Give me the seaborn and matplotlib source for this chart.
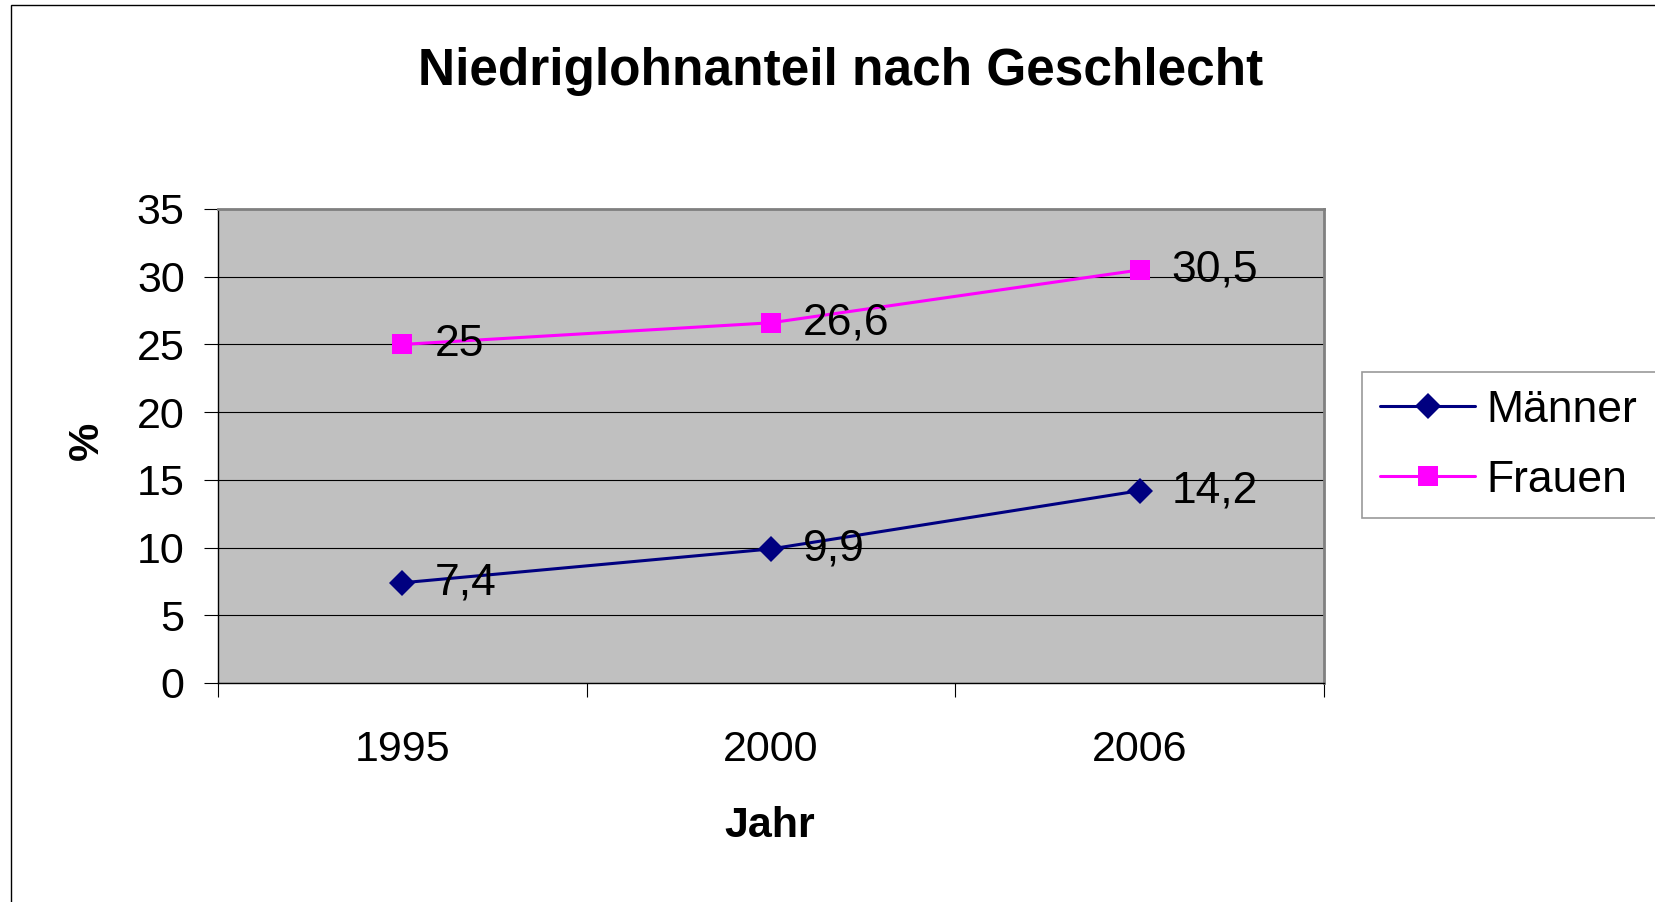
import pandas as pd
import numpy as np
import matplotlib
matplotlib.use('Agg')
import matplotlib.pyplot as plt
from matplotlib.patches import Rectangle
import seaborn as sns

# values
years = ['1995', '2000', '2006']
maenner = [7.4, 9.9, 14.2]
frauen = [25, 26.6, 30.5]
groups = ['Männer', 'Frauen']
y_ticks = [0, 5, 10, 15, 20, 25, 30, 35]

colors = {'Männer': '#000080', 'Frauen': '#FF00FF'}
markers = {'Männer': 'D', 'Frauen': 's'}


def fmt(v):
    return f'{v:g}'.replace('.', ',')


def main():
    df = pd.DataFrame({
        'Jahr': years * 2,
        'Anteil': maenner + frauen,
        'Geschlecht': ['Männer'] * 3 + ['Frauen'] * 3,
    })

    sns.set_style('white')
    plt.rcParams['font.family'] = ['Liberation Sans', 'DejaVu Sans']
    plt.rcParams['text.color'] = 'black'
    plt.rcParams['axes.labelcolor'] = 'black'
    plt.rcParams['xtick.color'] = 'black'
    plt.rcParams['ytick.color'] = 'black'

    W, H = 1655, 902
    fig = plt.figure(figsize=(W / 100, H / 100), dpi=100)
    ax = fig.add_axes([218 / W, 1 - 683 / H, (1324 - 218) / W, (683 - 209) / H])
    ax.set_facecolor('#C0C0C0')

    sns.lineplot(data=df, x='Jahr', y='Anteil', hue='Geschlecht', style='Geschlecht',
                 hue_order=groups, style_order=groups, palette=colors, markers=markers,
                 dashes=False, linewidth=2.2, markersize=13, markeredgewidth=0,
                 ax=ax, zorder=3)
    # fix individual marker sizes
    for line in ax.get_lines():
        if line.get_marker() == 'D':
            line.set_markersize(13)
        elif line.get_marker() == 's':
            line.set_markersize(15)

    ax.set_xlim(-0.5, 2.5)
    ax.set_ylim(0, 35)
    ax.set_yticks(y_ticks)
    ax.yaxis.grid(True, color='black', linewidth=0.8)
    ax.xaxis.grid(False)
    ax.set_axisbelow(True)

    ax.set_xticks(np.arange(len(years)))
    ax.set_xticklabels(years)
    ax.set_xticks(np.arange(len(years) + 1) - 0.5, minor=True)
    ax.tick_params(axis='x', which='major', length=0, pad=34, labelsize=31, bottom=True)
    ax.tick_params(axis='x', which='minor', length=10, width=0.8, color='black',
                   direction='out', bottom=True)
    ax.tick_params(axis='y', length=10, width=0.8, color='black', direction='out',
                   pad=14, labelsize=31, left=True)

    for s in ['top', 'right']:
        ax.spines[s].set_color('#808080')
        ax.spines[s].set_linewidth(2)
    for s in ['left', 'bottom']:
        ax.spines[s].set_color('black')
        ax.spines[s].set_linewidth(1)

    # data labels right of the points
    for g, vals in zip(groups, [maenner, frauen]):
        for i, v in enumerate(vals):
            ax.annotate(fmt(v), xy=(i, v), xytext=(23, 0), textcoords='offset points',
                        ha='left', va='center', fontsize=32, color='black', zorder=4)

    ax.set_xlabel('')
    ax.set_ylabel('')
    fig.text(87 / W, 1 - 441 / H, '%', rotation=90, ha='center', va='center',
             fontsize=31, fontweight='bold')
    fig.text(770 / W, 1 - 826 / H, 'Jahr', ha='center', va='center',
             fontsize=31, fontweight='bold')
    fig.text(841 / W, 1 - 71 / H, 'Niedriglohnanteil nach Geschlecht', ha='center',
             va='center', fontsize=37, fontweight='bold')

    handles, labels = ax.get_legend_handles_labels()
    ax.get_legend().remove()
    # frame runs off the right edge like in the original
    leg = fig.legend(handles, labels, loc='upper left', mode='expand',
                     bbox_to_anchor=(1362 / W, 1 - 372 / H - 0.2, 0.25, 0.2), fontsize=32,
                     frameon=True, fancybox=False, edgecolor='#808080',
                     handlelength=2.15, handletextpad=0.25, labelspacing=0.65,
                     borderpad=0.4, borderaxespad=0)
    leg.get_frame().set_linewidth(1.2)

    # outer chart border
    fig.patches.append(Rectangle((11 / W, -0.1), 1.2, 1 - 5 / H + 0.1, transform=fig.transFigure,
                                 fill=False, edgecolor='black', linewidth=1))

    plt.savefig('out.png', dpi=100)


if __name__ == '__main__':
    main()
